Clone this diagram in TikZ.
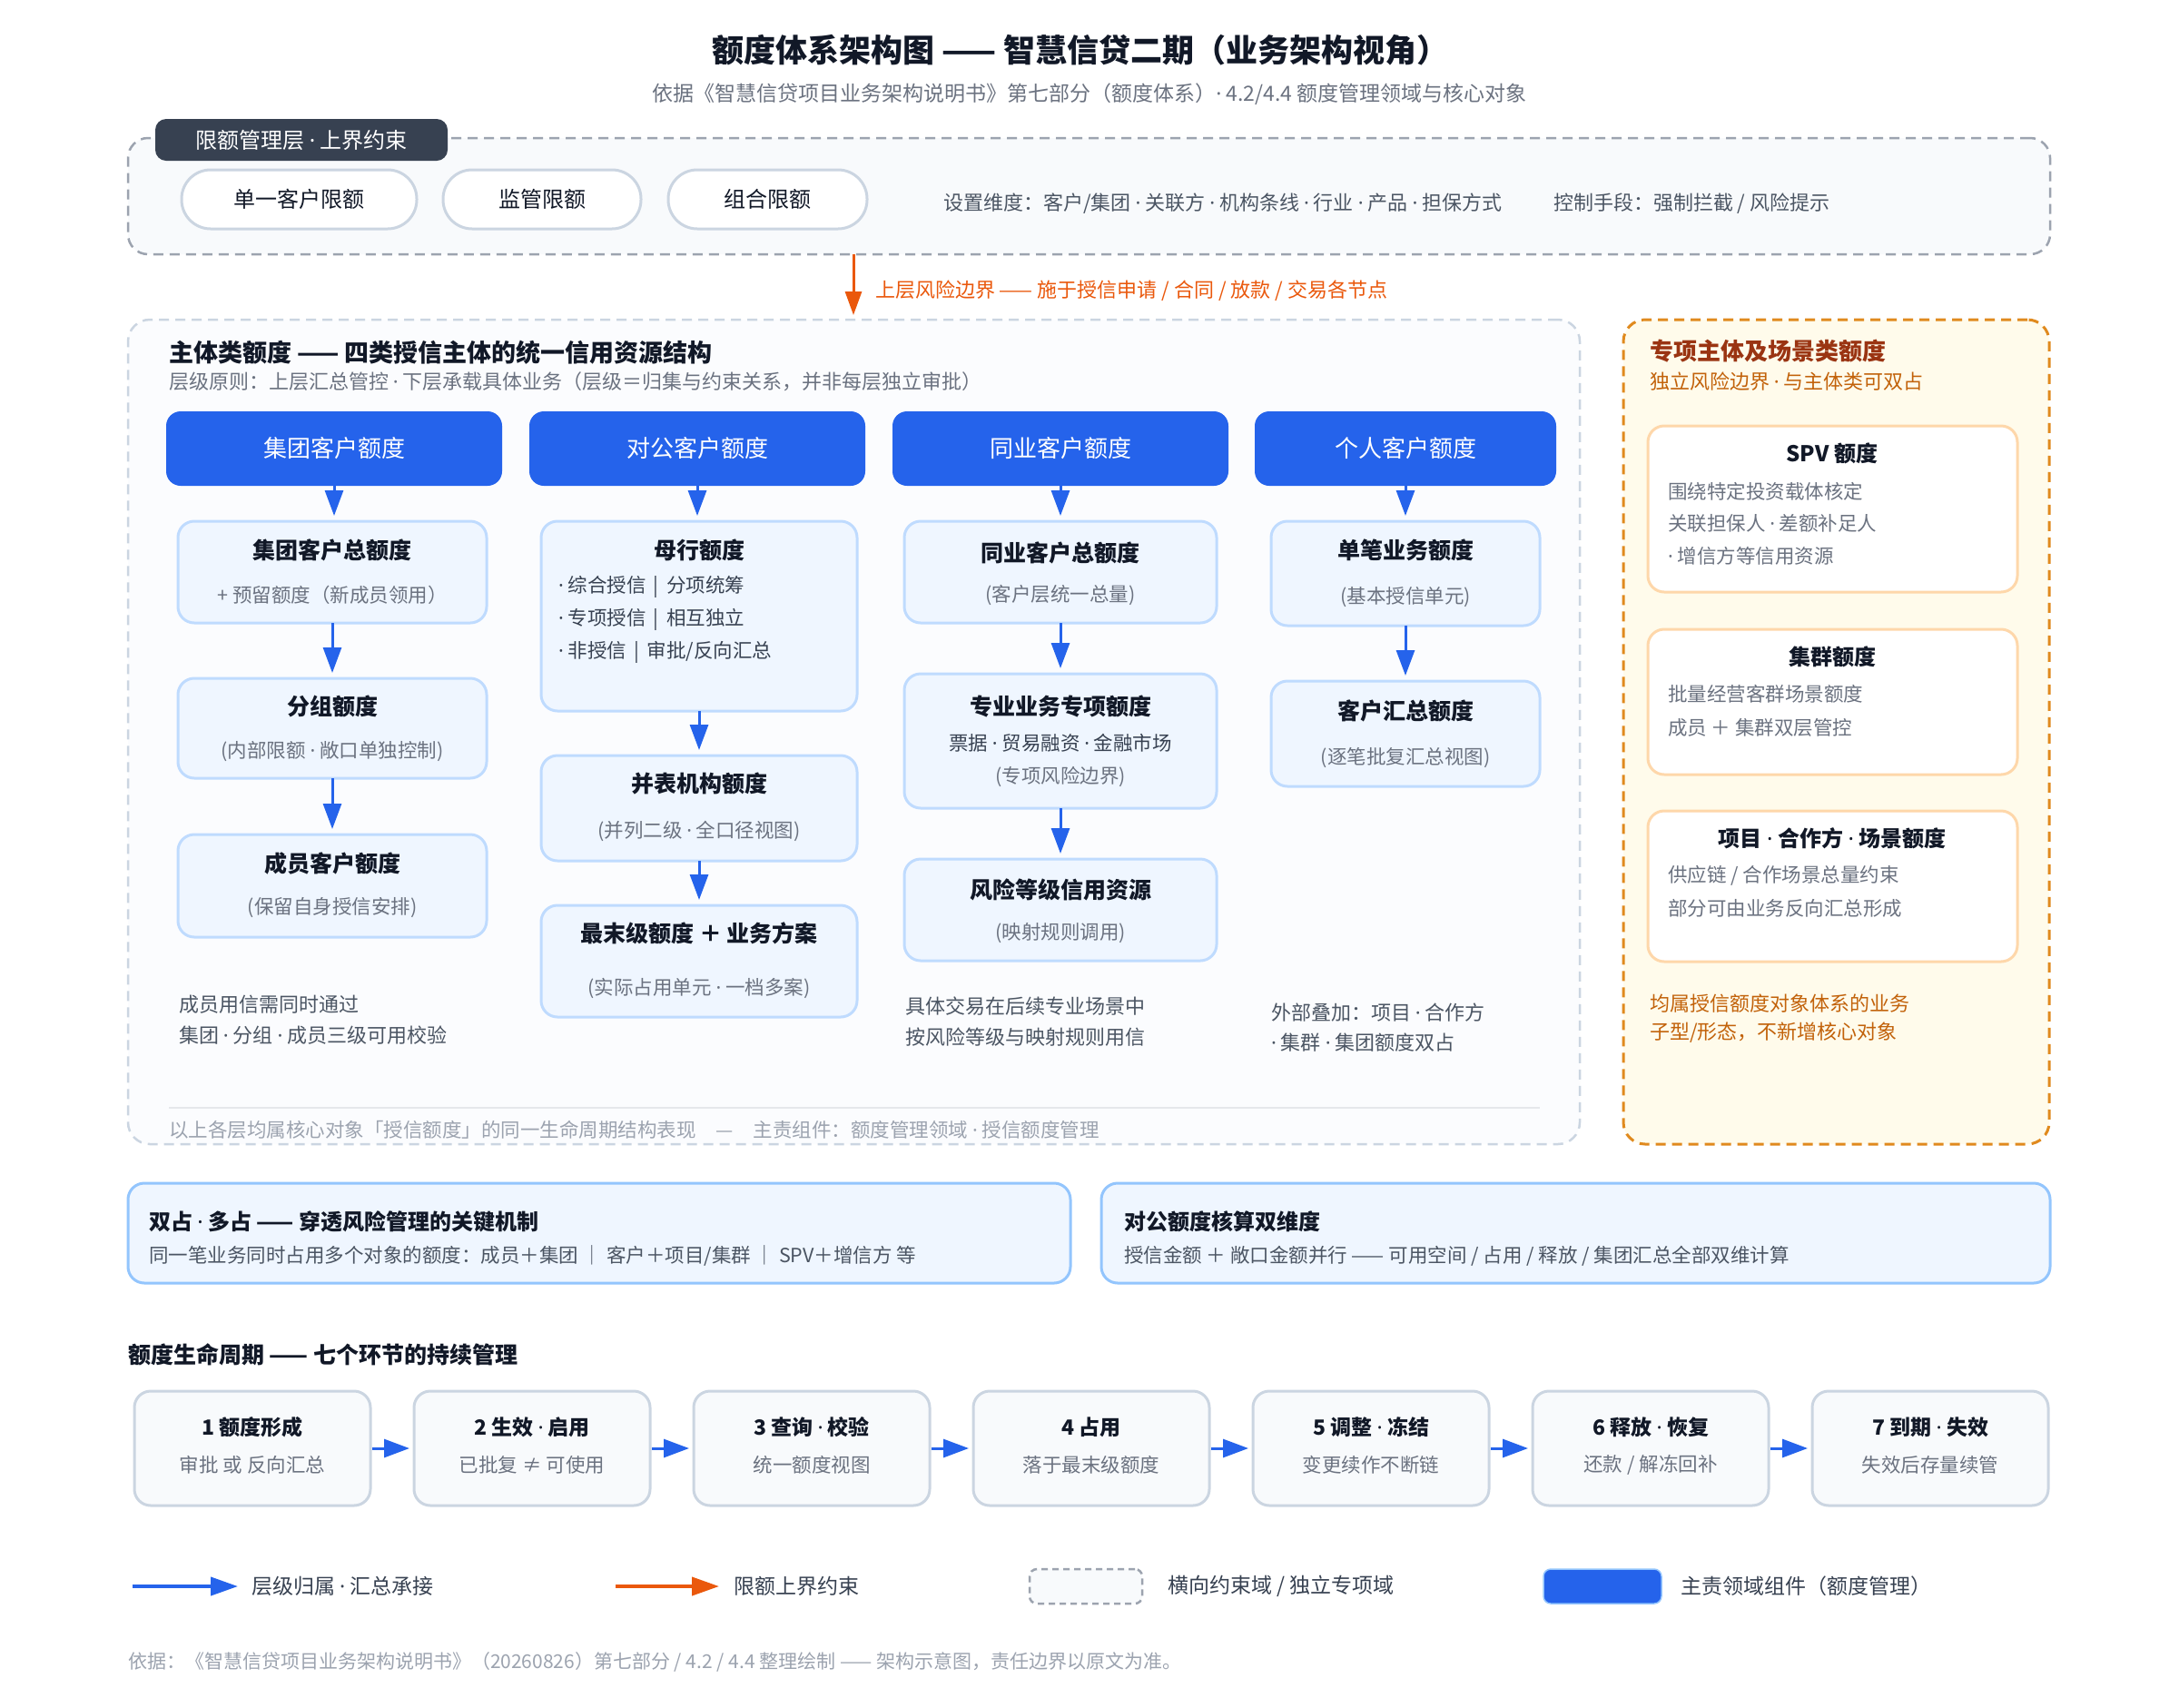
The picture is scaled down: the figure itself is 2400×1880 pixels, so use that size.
\documentclass[tikz,border=0pt]{standalone}
\usepackage{fontspec}
\setmainfont{Noto Sans CJK SC}
\newfontfamily\latinfont{Noto Sans}
\usetikzlibrary{arrows.meta}
\definecolor{ink}{HTML}{111827}
\definecolor{bodyc}{HTML}{374151}
\definecolor{notec}{HTML}{4B5563}
\definecolor{muted}{HTML}{6B7280}
\definecolor{faint}{HTML}{9CA3AF}
\definecolor{brand}{HTML}{2563EB}
\definecolor{boxfill}{HTML}{EFF6FF}
\definecolor{boxline}{HTML}{BFDBFE}
\definecolor{midline}{HTML}{93C5FD}
\definecolor{slate}{HTML}{CBD5E1}
\definecolor{slatefill}{HTML}{F8FAFC}
\definecolor{panelfill}{HTML}{FBFCFE}
\definecolor{tagfill}{HTML}{374151}
\definecolor{riskorange}{HTML}{EA580C}
\definecolor{amberline}{HTML}{E08A1E}
\definecolor{amberfill}{HTML}{FFFBEB}
\definecolor{amberbox}{HTML}{FED7AA}
\definecolor{amberhead}{HTML}{9A3412}
\definecolor{ambertext}{HTML}{C2620A}
\definecolor{sepc}{HTML}{E5E7EB}
\newcommand\fsz[1]{\fontsize{#1}{#1}\selectfont}
\newcommand\md{{\latinfont ·}}
\newcommand\mkbox[7]{\node[#2, minimum width={(#5-#3)*1pt}, minimum height={(#6-#4)*1pt}] (#1) at ({(#3+#5)/2},{(#4+#6)/2}) {#7};}
\tikzset{
  every node/.style={inner sep=0pt, outer sep=0pt},
  topbox/.style={draw=faint, fill=slatefill, line width=2.5pt, dash pattern=on 11pt off 7pt, rounded corners=22pt},
  tagbox/.style={fill=tagfill, rounded corners=12pt, text=white, font=\fsz{24}},
  pill/.style={draw=slate, fill=white, line width=3pt, rounded corners=32pt, text=ink, font=\fsz{24}},
  mainpanel/.style={draw=slate, fill=panelfill, line width=2.5pt, dash pattern=on 11pt off 7pt, rounded corners=24pt},
  amberpanel/.style={draw=amberline, fill=amberfill, line width=3pt, dash pattern=on 11pt off 7pt, rounded corners=24pt},
  amberbx/.style={draw=amberbox, fill=white, line width=3pt, rounded corners=18pt},
  hdr/.style={fill=brand, rounded corners=16pt, text=white, font=\fsz{26}},
  qbox/.style={draw=boxline, fill=boxfill, line width=3pt, rounded corners=18pt},
  midbox/.style={draw=midline, fill=boxfill, line width=3pt, rounded corners=18pt},
  lcbox/.style={draw=slate, fill=slatefill, line width=3pt, rounded corners=18pt},
  qtitle/.style={font=\bfseries\fsz{25}, text=ink},
  qsub/.style={font=\fsz{21.5}, text=muted},
  qline/.style={font=\fsz{21.5}, text=bodyc},
  note/.style={font=\fsz{22}, text=notec, anchor=west},
  atext/.style={font=\fsz{21.5}, text=muted, anchor=west},
  legtext/.style={font=\fsz{23}, text=bodyc, anchor=west},
  barrow/.style={draw=brand, line width=3pt, -{Triangle[width=20pt,length=28pt]}, shorten >=6pt},
  larrow/.style={draw=brand, line width=3pt, -{Triangle[width=20pt,length=28pt]}, shorten >=5pt, shorten <=2pt},
  oarrow/.style={draw=riskorange, line width=3pt, -{Triangle[width=18pt,length=26pt]}, shorten >=5pt},
  legb/.style={draw=brand, line width=4pt, -{Triangle[width=20pt,length=30pt]}},
  lego/.style={draw=riskorange, line width=4pt, -{Triangle[width=20pt,length=30pt]}},
  legdash/.style={draw=faint, fill=slatefill, line width=2.5pt, dash pattern=on 7pt off 5pt, rounded corners=8pt},
  legblue/.style={fill=brand, draw=midline, line width=1.5pt, rounded corners=8pt},
}
\begin{document}
\begin{tikzpicture}[x=1pt,y=-1pt]
\useasboundingbox (0,0) rectangle (2400,1880);
\fill[white] (0,0) rectangle (2400,1880);

% ---------- title ----------
\node[font=\bfseries\fsz{35}, text=ink] (title) at (1190,55) {额度体系架构图 —— 智慧信贷二期（业务架构视角）};
\node[font=\fsz{23}, text=muted] (subtitle) at (1200,104) {依据《智慧信贷项目业务架构说明书》第七部分（额度体系）\md{} 4.2/4.4 额度管理领域与核心对象};

% ---------- limit layer ----------
\mkbox{limbox}{topbox}{141}{152}{2258}{280}{}
\mkbox{tag}{tagbox}{171}{131}{493}{177}{限额管理层 \md{} 上界约束}
\mkbox{pillA}{pill}{200}{187}{459}{252}{单一客户限额}
\mkbox{pillB}{pill}{488}{187}{706}{252}{监管限额}
\mkbox{pillC}{pill}{736}{187}{955}{252}{组合限额}
\node[note, font=\fsz{22}] (dims) at (1039,224) {设置维度：客户/集团 \md{} 关联方 \md{} 机构条线 \md{} 行业 \md{} 产品 \md{} 担保方式};
\node[note, font=\fsz{22}] (ctrl) at (1711,224) {控制手段：强制拦截 / 风险提示};

% ---------- main panel ----------
\mkbox{mainp}{mainpanel}{141}{352}{1740}{1260}{}
\coordinate (ox) at (940,0);
\draw[oarrow] (limbox.south -| ox) -- (mainp.north -| ox);
\node[font=\fsz{22}, text=riskorange, anchor=west] (olabel) at (964,320) {上层风险边界 —— 施于授信申请 / 合同 / 放款 / 交易各节点};

\node[font=\bfseries\fsz{27}, text=ink, anchor=west] (mainhd) at (186,388) {主体类额度 —— 四类授信主体的统一信用资源结构};
\node[font=\fsz{22}, text=muted, anchor=west] (mainsub) at (186,420) {层级原则：上层汇总管控 \md{} 下层承载具体业务（层级＝归集与约束关系，并非每层独立审批）};

\mkbox{h1}{hdr}{183}{453}{553}{535}{集团客户额度}
\mkbox{h2}{hdr}{583}{453}{953}{535}{对公客户额度}
\mkbox{h3}{hdr}{983}{453}{1353}{535}{同业客户额度}
\mkbox{h4}{hdr}{1382}{453}{1714}{535}{个人客户额度}

% column 1
\mkbox{g1}{qbox}{196}{574}{536}{686}{}
\node[qtitle] (g1t) at (366,606) {集团客户总额度};
\node[qsub] (g1s) at (366,655) {+ 预留额度（新成员领用）};
\mkbox{g2}{qbox}{196}{747}{536}{857}{}
\node[qtitle] (g2t) at (366,778) {分组额度};
\node[qsub] (g2s) at (366,828) {(内部限额 \md{} 敞口单独控制)};
\mkbox{g3}{qbox}{196}{919}{536}{1032}{}
\node[qtitle] (g3t) at (366,951) {成员客户额度};
\node[qsub] (g3s) at (366,1000) {(保留自身授信安排)};
\node[note] (g4a) at (197,1106) {成员用信需同时通过};
\node[note] (g4b) at (197,1140) {集团 \md{} 分组 \md{} 成员三级可用校验};

% column 2
\mkbox{c1}{qbox}{596}{574}{944}{783}{}
\node[qtitle] (c1t) at (770,606) {母行额度};
\node[qline, anchor=west] (c1a) at (615,646) {\md{} 综合授信 \,|\, 分项统筹};
\node[qline, anchor=west] (c1b) at (615,682) {\md{} 专项授信 \,|\, 相互独立};
\node[qline, anchor=west] (c1c) at (615,718) {\md{} 非授信 \,|\, 审批/反向汇总};
\mkbox{c2}{qbox}{596}{832}{944}{948}{}
\node[qtitle] (c2t) at (770,863) {并表机构额度};
\node[qsub] (c2s) at (770,915) {(并列二级 \md{} 全口径视图)};
\mkbox{c3}{qbox}{596}{997}{944}{1120}{}
\node[qtitle] (c3t) at (770,1028) {最末级额度 ＋ 业务方案};
\node[qsub] (c3s) at (770,1088) {(实际占用单元 \md{} 一档多案)};

% column 3
\mkbox{t1}{qbox}{996}{574}{1340}{686}{}
\node[qtitle] (t1t) at (1168,609) {同业客户总额度};
\node[qsub] (t1s) at (1168,655) {(客户层统一总量)};
\mkbox{t2}{qbox}{996}{742}{1340}{890}{}
\node[qtitle] (t2t) at (1168,778) {专业业务专项额度};
\node[qline] (t2l) at (1168,818) {票据 \md{} 贸易融资 \md{} 金融市场};
\node[qsub] (t2s) at (1168,855) {(专项风险边界)};
\mkbox{t3}{qbox}{996}{946}{1340}{1058}{}
\node[qtitle] (t3t) at (1168,980) {风险等级信用资源};
\node[qsub] (t3s) at (1168,1028) {(映射规则调用)};
\node[note] (t4a) at (997,1108) {具体交易在后续专业场景中};
\node[note] (t4b) at (997,1142) {按风险等级与映射规则用信};

% column 4
\mkbox{p1}{qbox}{1400}{574}{1696}{689}{}
\node[qtitle] (p1t) at (1548,606) {单笔业务额度};
\node[qsub] (p1s) at (1548,658) {(基本授信单元)};
\mkbox{p2}{qbox}{1400}{750}{1696}{866}{}
\node[qtitle] (p2t) at (1548,783) {客户汇总额度};
\node[qsub] (p2s) at (1548,835) {(逐笔批复汇总视图)};
\node[note] (p3a) at (1400,1115) {外部叠加：项目 \md{} 合作方};
\node[note] (p3b) at (1400,1148) {\md{} 集群 \md{} 集团额度双占};

% arrows in columns
\draw[barrow] (h1.south) -- (h1.south |- g1.north);
\draw[barrow] (g1.south) -- (g2.north);
\draw[barrow] (g2.south) -- (g3.north);
\draw[barrow] (h2.south) -- (h2.south |- c1.north);
\draw[barrow] (c1.south) -- (c2.north);
\draw[barrow] (c2.south) -- (c3.north);
\draw[barrow] (h3.south) -- (t1.north);
\draw[barrow] (t1.south) -- (t2.north);
\draw[barrow] (t2.south) -- (t3.north);
\draw[barrow] (h4.south) -- (p1.north);
\draw[barrow] (p1.south) -- (p2.north);

\coordinate (sepL) at (186,1220);
\coordinate (sepR) at (1696,1220);
\draw[sepc, line width=2pt] (sepL) -- (sepR);
\node[font=\fsz{21.5}, text=faint, anchor=west] (mainfoot) at (186,1244) {以上各层均属核心对象「授信额度」的同一生命周期结构表现\hspace{22pt}—\hspace{22pt}主责组件：额度管理领域 \md{} 授信额度管理};

% ---------- special panel ----------
\mkbox{sp}{amberpanel}{1788}{352}{2257}{1260}{}
\node[font=\bfseries\fsz{26}, text=amberhead, anchor=west] (sphd) at (1817,387) {专项主体及场景类额度};
\node[font=\fsz{22}, text=ambertext, anchor=west] (spsub) at (1817,420) {独立风险边界 \md{} 与主体类可双占};
\mkbox{spv}{amberbx}{1815}{469}{2222}{652}{}
\node[qtitle, font=\bfseries\fsz{24}] (spvt) at (2018,499) {SPV 额度};
\node[atext] (spva) at (1837,541) {围绕特定投资载体核定};
\node[atext] (spvb) at (1837,576) {关联担保人 \md{} 差额补足人};
\node[atext] (spvc) at (1837,612) {\md{} 增信方等信用资源};
\mkbox{clu}{amberbx}{1815}{693}{2222}{853}{}
\node[qtitle, font=\bfseries\fsz{24}] (clut) at (2018,723) {集群额度};
\node[atext] (clua) at (1837,764) {批量经营客群场景额度};
\node[atext] (club) at (1837,801) {成员 ＋ 集群双层管控};
\mkbox{prj}{amberbx}{1815}{893}{2222}{1059}{}
\node[qtitle, font=\bfseries\fsz{24}] (prjt) at (2018,923) {项目 \md{} 合作方 \md{} 场景额度};
\node[atext] (prja) at (1837,964) {供应链 / 合作场景总量约束};
\node[atext] (prjb) at (1837,1000) {部分可由业务反向汇总形成};
\node[font=\fsz{22}, text=ambertext, anchor=west] (spfa) at (1817,1105) {均属授信额度对象体系的业务};
\node[font=\fsz{22}, text=ambertext, anchor=west] (spfb) at (1817,1137) {子型/形态，不新增核心对象};

% ---------- mechanism boxes ----------
\mkbox{dual}{midbox}{141}{1303}{1179}{1413}{}
\node[font=\bfseries\fsz{24}, text=ink, anchor=west] (dualt) at (164,1345) {双占 \md{} 多占 —— 穿透风险管理的关键机制};
\node[font=\fsz{21.5}, text=notec, anchor=west] (duals) at (164,1383) {同一笔业务同时占用多个对象的额度：成员＋集团 ｜ 客户＋项目/集群 ｜ SPV＋增信方 等};
\mkbox{calc}{midbox}{1213}{1303}{2258}{1413}{}
\node[font=\bfseries\fsz{24}, text=ink, anchor=west] (calct) at (1238,1345) {对公额度核算双维度};
\node[font=\fsz{21.5}, text=notec, anchor=west] (calcs) at (1238,1383) {授信金额 ＋ 敞口金额并行 —— 可用空间 / 占用 / 释放 / 集团汇总全部双维计算};

% ---------- lifecycle ----------
\node[font=\bfseries\fsz{25}, text=ink, anchor=west] (lchd) at (141,1492) {额度生命周期 —— 七个环节的持续管理};
\mkbox{lc1}{lcbox}{148}{1532}{408}{1658}{}
\node[qtitle, font=\bfseries\fsz{23}] (lc1t) at (278,1572) {1 额度形成};
\node[qsub] (lc1s) at (278,1613) {审批 或 反向汇总};
\mkbox{lc2}{lcbox}{456}{1532}{716}{1658}{}
\node[qtitle, font=\bfseries\fsz{23}] (lc2t) at (586,1572) {2 生效 \md{} 启用};
\node[qsub] (lc2s) at (586,1613) {已批复 ≠ 可使用};
\mkbox{lc3}{lcbox}{764}{1532}{1024}{1658}{}
\node[qtitle, font=\bfseries\fsz{23}] (lc3t) at (894,1572) {3 查询 \md{} 校验};
\node[qsub] (lc3s) at (894,1613) {统一额度视图};
\mkbox{lc4}{lcbox}{1072}{1532}{1332}{1658}{}
\node[qtitle, font=\bfseries\fsz{23}] (lc4t) at (1202,1572) {4 占用};
\node[qsub] (lc4s) at (1202,1613) {落于最末级额度};
\mkbox{lc5}{lcbox}{1380}{1532}{1640}{1658}{}
\node[qtitle, font=\bfseries\fsz{23}] (lc5t) at (1510,1572) {5 调整 \md{} 冻结};
\node[qsub] (lc5s) at (1510,1613) {变更续作不断链};
\mkbox{lc6}{lcbox}{1688}{1532}{1948}{1658}{}
\node[qtitle, font=\bfseries\fsz{23}] (lc6t) at (1818,1572) {6 释放 \md{} 恢复};
\node[qsub] (lc6s) at (1818,1613) {还款 / 解冻回补};
\mkbox{lc7}{lcbox}{1996}{1532}{2256}{1658}{}
\node[qtitle, font=\bfseries\fsz{23}] (lc7t) at (2126,1572) {7 到期 \md{} 失效};
\node[qsub] (lc7s) at (2126,1613) {失效后存量续管};
\draw[larrow] (lc1.east) -- (lc2.west);
\draw[larrow] (lc2.east) -- (lc3.west);
\draw[larrow] (lc3.east) -- (lc4.west);
\draw[larrow] (lc4.east) -- (lc5.west);
\draw[larrow] (lc5.east) -- (lc6.west);
\draw[larrow] (lc6.east) -- (lc7.west);

% ---------- legend ----------
\coordinate (lgA1) at (146,1747);
\coordinate (lgA2) at (262,1747);
\draw[legb] (lgA1) -- (lgA2);
\node[legtext] (lgAt) at (277,1747) {层级归属 \md{} 汇总承接};
\coordinate (lgB1) at (678,1747);
\coordinate (lgB2) at (792,1747);
\draw[lego] (lgB1) -- (lgB2);
\node[legtext] (lgBt) at (808,1747) {限额上界约束};
\mkbox{lgC}{legdash}{1134}{1728}{1258}{1766}{}
\node[legtext] (lgCt) at (1286,1747) {横向约束域 / 独立专项域};
\mkbox{lgD}{legblue}{1700}{1728}{1830}{1766}{}
\node[legtext] (lgDt) at (1851,1747) {主责领域组件（额度管理）};

\node[font=\fsz{21}, text=faint, anchor=west] (foot) at (141,1830) {依据：《智慧信贷项目业务架构说明书》（20260826）第七部分 / 4.2 / 4.4 整理绘制 —— 架构示意图，责任边界以原文为准。};
\end{tikzpicture}
\end{document}
